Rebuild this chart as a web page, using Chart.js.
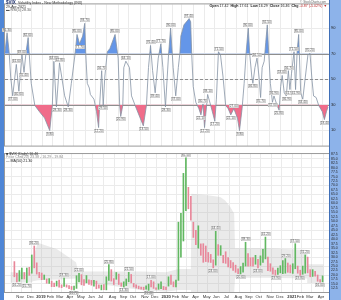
<!DOCTYPE html>
<html>
<head>
<meta charset="utf-8">
<script src="https://cdn.jsdelivr.net/npm/chart.js@4.4.1/dist/chart.umd.min.js"></script>
<style>
html, body { margin: 0; padding: 0; background: #fff; }
#wrap { position: relative; width: 341px; height: 300px; overflow: hidden; }
canvas { position: absolute; left: 0; }
#topPanel { top: 0; }
#pricePanel { top: 150px; }
</style>
</head>
<body>
<div id="wrap">
  <canvas id="topPanel" width="341" height="150" style="width:341px;height:150px"></canvas>
  <canvas id="pricePanel" width="341" height="150" style="width:341px;height:150px"></canvas>
</div>
<script>
// x axis = trading day counted from 26-Oct-2018
const monthDays = [4, 25, 44, 65, 84, 105, 126, 148, 168, 190, 212, 232, 255, 275, 296, 317, 336, 358, 379, 399, 421, 443, 464, 485, 507, 527, 549, 568, 587, 610];
const monthLabels = ["Nov", "Dec", "2019", "Feb", "Mar", "Apr", "May", "Jun", "Jul", "Aug", "Sep", "Oct", "Nov", "Dec", "2020", "Feb", "Mar", "Apr", "May", "Jun", "Jul", "Aug", "Sep", "Oct", "Nov", "Dec", "2021", "Feb", "Mar", "Apr"];

// RSI panel
const rsiDays = [-8, -4, 0, 3, 7, 14, 19, 25, 29, 33, 37, 43, 50, 59, 69, 79, 84, 87, 92, 98, 108, 115, 121, 128, 132, 137, 143, 147, 149, 152, 156, 158, 165, 170, 174, 176, 180, 183, 186, 191, 196, 206, 212, 215, 217, 221, 223, 227, 234, 238, 245, 261, 267, 271, 275, 279, 284, 290, 295, 299, 304, 310, 314, 319, 324, 329, 332, 334, 340, 350, 353, 355, 358, 363, 369, 373, 377, 380, 384, 386, 392, 400, 403, 407, 411, 416, 421, 426, 431, 437, 444, 448, 453, 457, 461, 465, 468, 472, 474, 478, 482, 486, 489, 492, 496, 499, 502, 505, 508, 512, 515, 521, 525, 528, 531, 535, 539, 543, 546, 549, 554, 557, 560, 563, 567, 571, 576, 581, 585, 589, 592, 597, 602, 609, 613, 617, 620];
const rsiValues = [71, 86.3, 71.5, 51.7, 37, 61.6, 40.6, 69, 55.4, 71.5, 82.6, 46.8, 29.5, 24.6, 19.6, 9.8, 29.5, 64, 28.3, 62.8, 37, 28.3, 46.8, 69, 85, 77.7, 83.8, 93.7, 70.2, 46.8, 43.1, 38.1, 34.4, 24.6, 12.2, 29.5, 56.7, 29.5, 51.7, 71.5, 74, 85, 66.5, 29.5, 20.9, 29.5, 59.1, 64.1, 59.1, 37, 29.5, 13.5, 29.5, 59.1, 76.4, 56.7, 39.4, 66.5, 77.7, 59.1, 28.3, 69, 90, 59.1, 37, 59.1, 70.2, 83.8, 92.5, 97.4, 94.9, 70.2, 44.3, 32, 27, 22.1, 30.7, 12.2, 29.5, 38.1, 29.5, 17.2, 34.4, 71.5, 69, 51.7, 29.5, 27, 22.1, 27, 19.6, 9.8, 27, 46.8, 71.5, 90, 69, 51.7, 46.8, 59.1, 66.5, 51.7, 35.7, 59.1, 64.1, 78.9, 92.5, 69, 46.8, 32, 36.9, 29.5, 25.8, 44.3, 53, 39.4, 36.9, 56.7, 41.9, 54.2, 71.5, 41.9, 71.5, 85, 39.4, 34.4, 51.7, 69, 70.2, 49.3, 36.9, 35.7, 29.5, 24.6, 18.4, 24.6, 28.3];
const rsiTicks = [10, 30, 50, 70, 90];
const rsiUpper = 70, rsiMid = 50, rsiLower = 30;

// price panel, one bar per week (5 trading days)
const barStep = 5;
const barLow = [19.0, 16.2, 16.5, 17.8, 17.8, 15.7, 19.8, 21.0, 24.0, 20.5, 18.5, 17.4, 17.5, 15.4, 15.3, 13.5, 13.5, 13.8, 13.2, 12.9, 13.6, 13.2, 12.3, 11.9, 11.7, 12.5, 16.2, 14.5, 14.2, 15.6, 14.8, 14.3, 13.7, 12.3, 12.6, 11.7, 11.8, 11.7, 17.0, 16.6, 14.7, 17.6, 14.7, 13.7, 13.3, 14.1, 16.2, 15.6, 13.3, 12.7, 12.3, 12.1, 11.7, 12.1, 11.4, 13.4, 12.5, 11.9, 12.0, 12.4, 11.8, 11.8, 13.8, 14.8, 13.4, 13.4, 17.0, 30.0, 39.0, 56.0, 57.0, 50.6, 41.0, 37.0, 35.0, 31.0, 27.1, 27.5, 27.2, 27.0, 24.0, 25.5, 31.0, 31.0, 26.8, 26.5, 24.5, 24.0, 22.6, 21.5, 20.8, 20.6, 21.6, 25.0, 25.0, 25.0, 25.0, 26.0, 24.0, 25.5, 27.0, 29.0, 22.4, 22.1, 20.5, 19.9, 20.3, 21.2, 20.8, 21.0, 21.5, 21.2, 20.9, 23.5, 21.0, 19.8, 20.4, 21.0, 21.2, 19.0, 19.2, 19.4, 16.5, 16.0, 16.2];
const barHigh = [27.5, 21.0, 22.5, 23.8, 21.4, 23.9, 24.3, 31.2, 36.2, 26.8, 21.5, 21.1, 20.0, 17.8, 18.0, 16.6, 15.5, 16.6, 17.2, 14.5, 18.3, 14.5, 14.1, 13.6, 13.8, 19.6, 21.0, 20.2, 17.5, 19.7, 17.3, 17.0, 17.0, 16.6, 14.5, 14.4, 14.6, 19.0, 25.8, 23.0, 18.0, 21.4, 20.5, 15.6, 16.2, 17.8, 21.5, 20.3, 15.3, 14.5, 13.8, 13.3, 13.2, 13.9, 14.9, 17.0, 16.2, 12.9, 15.0, 16.2, 13.6, 13.2, 19.0, 19.9, 16.2, 17.1, 49.5, 54.4, 76.8, 85.5, 69.0, 64.0, 49.5, 45.0, 47.5, 37.4, 37.5, 36.2, 32.6, 31.5, 28.5, 44.4, 37.0, 36.4, 31.0, 33.0, 29.7, 28.1, 27.0, 25.5, 23.5, 24.7, 26.6, 38.3, 32.0, 29.7, 29.8, 31.0, 28.8, 30.7, 34.4, 41.2, 30.0, 26.3, 24.0, 22.7, 23.8, 25.2, 28.0, 29.2, 26.7, 25.6, 26.3, 37.5, 25.0, 22.7, 25.0, 31.2, 30.0, 23.0, 23.0, 22.0, 20.0, 17.5, 19.5];
const barUp = [0, 0, 1, 1, 0, 1, 0, 1, 0, 0, 0, 0, 1, 0, 1, 0, 0, 1, 0, 0, 1, 0, 0, 0, 1, 1, 1, 0, 0, 1, 0, 0, 1, 0, 0, 1, 0, 1, 1, 0, 0, 1, 0, 0, 1, 1, 1, 0, 0, 0, 0, 0, 0, 1, 1, 0, 0, 0, 1, 1, 0, 0, 1, 0, 0, 1, 1, 1, 1, 1, 0, 0, 0, 0, 1, 0, 0, 0, 0, 0, 0, 1, 0, 1, 0, 0, 0, 0, 0, 0, 0, 1, 1, 1, 0, 0, 0, 1, 0, 1, 1, 1, 0, 0, 0, 0, 1, 1, 1, 1, 0, 0, 1, 1, 0, 0, 1, 1, 0, 0, 1, 0, 0, 0, 1];
const bandDays = [-8, 34, 37, 47, 86, 124, 128, 189, 254, 305, 330, 355, 356, 389, 414, 424, 434, 442, 444, 511, 589, 590, 622];
const bandUpper = [21.6, 21.6, 28.9, 38, 34.4, 27.1, 22, 22, 22, 21.6, 23.4, 23.4, 65.4, 64.5, 63.6, 61.7, 58.1, 54.4, 35, 35, 34, 26, 26];
const bandLower = [15.8, 15.8, 16.5, 17, 17.5, 18, 16.1, 14.3, 11.6, 10.7, 11.6, 11.6, 9.5, 9.5, 9.5, 9.5, 9.5, 9.5, 18.5, 18.5, 18, 15.5, 15.5];
const priceTicks = [12.5, 15, 17.5, 20, 22.5, 25, 27.5, 30, 32.5, 35, 37.5, 40, 42.5, 45, 47.5, 50, 52.5, 55, 57.5, 60, 62.5, 65, 67.5, 70, 72.5, 75, 77.5, 80, 82.5, 85, 87.5];

const FONT = '"Liberation Sans", Arial, sans-serif';
const STRIP_LEFT = "#4f86d6";
const STRIP_RIGHT = "#8db3ea";

function tag(ctx, text, x, y, above) {
    ctx.font = "3.2px " + FONT;
    const w = ctx.measureText(text).width + 1.6, h = 4;
    const bx = Math.round(x - w / 2), by = Math.round(above ? y - h - 1 : y + 1);
    ctx.fillStyle = "#fff";
    ctx.fillRect(bx, by, w, h);
    ctx.strokeStyle = "#a8a8a8";
    ctx.lineWidth = 0.5;
    ctx.strokeRect(bx + 0.25, by + 0.25, w - 0.5, h - 0.5);
    ctx.fillStyle = "#555";
    ctx.textAlign = "center";
    ctx.textBaseline = "middle";
    ctx.fillText(text, bx + w / 2, by + h / 2 + 0.2);
}

function frame(chart) {
    const ctx = chart.ctx, a = chart.chartArea;
    ctx.save();
    ctx.fillStyle = "#fff";
    ctx.fillRect(0, 0, chart.width, chart.height);
    ctx.fillStyle = STRIP_RIGHT;
    ctx.fillRect(a.right, 0, chart.width - a.right, chart.height);
    ctx.fillStyle = STRIP_LEFT;
    ctx.fillRect(0, 0, 4, chart.height);
    ctx.restore();
}

function border(chart) {
    const ctx = chart.ctx, a = chart.chartArea;
    ctx.save();
    ctx.strokeStyle = "#9a9a9a";
    ctx.lineWidth = 1;
    ctx.strokeRect(a.left - 0.5, a.top - 0.5, a.right - a.left + 1, a.bottom - a.top + 1);
    ctx.strokeStyle = "#3f6fb8";
    ctx.beginPath();
    ctx.moveTo(a.right + 0.5, 0);
    ctx.lineTo(a.right + 0.5, chart.height);
    ctx.stroke();
    ctx.restore();
}

function textRun(ctx, parts, rightX, y) {
    let total = 0;
    parts.forEach(p => { ctx.font = p[1] + " 3.6px " + FONT; total += ctx.measureText(p[0]).width; });
    let x = rightX - total;
    ctx.textAlign = "left";
    parts.forEach(p => {
        ctx.font = p[1] + " 3.6px " + FONT;
        ctx.fillStyle = p[2] || "#222";
        ctx.fillText(p[0], x, y);
        x += ctx.measureText(p[0]).width;
    });
}

const rsiDecor = {
    id: "rsiDecor",
    beforeDraw: frame,
    beforeDatasetsDraw(chart) {
        const ctx = chart.ctx, a = chart.chartArea, y = chart.scales.y;
        ctx.save();
        ctx.lineWidth = 1;
        ctx.strokeStyle = "#8e8e8e";
        [rsiUpper, rsiLower].forEach(v => {
            const py = Math.round(y.getPixelForValue(v)) + 0.5;
            ctx.beginPath(); ctx.moveTo(a.left, py); ctx.lineTo(a.right, py); ctx.stroke();
        });
        ctx.setLineDash([3, 2]);
        const py = Math.round(y.getPixelForValue(rsiMid)) + 0.5;
        ctx.beginPath(); ctx.moveTo(a.left, py); ctx.lineTo(a.right, py); ctx.stroke();
        ctx.restore();
    },
    afterDatasetsDraw(chart) {
        const ctx = chart.ctx, xs = chart.scales.x, ys = chart.scales.y;
        ctx.save();
        for (let i = 1; i < rsiValues.length - 1; i++) {
            const v = rsiValues[i];
            const px = xs.getPixelForValue(rsiDays[i]), py = ys.getPixelForValue(v);
            if (v > rsiValues[i - 1] && v > rsiValues[i + 1]) tag(ctx, v.toFixed(2), px, py, true);
            else if (v < rsiValues[i - 1] && v < rsiValues[i + 1]) tag(ctx, v.toFixed(2), px, py, false);
        }
        ctx.restore();
    },
    afterDraw(chart) {
        border(chart);
        const ctx = chart.ctx;
        ctx.save();
        ctx.textBaseline = "middle";
        ctx.textAlign = "left";
        ctx.font = "bold 4.5px " + FONT;
        ctx.fillStyle = "#1d2f6b";
        ctx.fillText("$VIX", 6, 3);
        ctx.font = "3.6px " + FONT;
        ctx.fillStyle = "#333";
        ctx.fillText("Volatility Index - New Methodology (INX)", 18, 3);
        ctx.fillText("29-Apr-2021", 6, 6.8);
        ctx.fillStyle = "#555";
        ctx.fillText("\u25AC RSI(5) 28.30", 6, 10);
        ctx.font = "3px " + FONT;
        ctx.textAlign = "right";
        ctx.fillStyle = "#666";
        ctx.fillText("\u00A9 StockCharts.com", 326, 2.2);
        textRun(ctx, [["Open ", "bold"], ["17.42  ", "normal"], ["High ", "bold"], ["17.61  ", "normal"],
            ["Low ", "bold"], ["16.29  ", "normal"], ["Close ", "bold"], ["16.46  ", "normal"],
            ["Chg ", "bold"], ["-0.87 (-5.02%) \u25BC", "normal", "#c03030"]], 327, 5.6);
        ctx.restore();
    }
};

const priceDecor = {
    id: "priceDecor",
    beforeDraw: frame,
    afterDatasetsDraw(chart) {
        const ctx = chart.ctx, xs = chart.scales.x, ys = chart.scales.y;
        const n = barHigh.length;
        ctx.save();
        for (let i = 1; i < n - 1; i++) {
            const lo = Math.max(0, i - 3), hi = Math.min(n - 1, i + 3);
            let isHigh = true, isLow = true;
            for (let j = lo; j <= hi; j++) {
                if (j === i) continue;
                if (barHigh[j] >= barHigh[i]) isHigh = false;
                if (barLow[j] <= barLow[i]) isLow = false;
            }
            const px = xs.getPixelForValue(i * barStep);
            if (isHigh) tag(ctx, barHigh[i].toFixed(2), px, ys.getPixelForValue(barHigh[i]), true);
            if (isLow) tag(ctx, barLow[i].toFixed(2), px, ys.getPixelForValue(barLow[i]), false);
        }
        ctx.restore();
    },
    afterDraw(chart) {
        border(chart);
        const ctx = chart.ctx;
        ctx.save();
        ctx.textBaseline = "middle";
        ctx.textAlign = "left";
        ctx.font = "3.6px " + FONT;
        ctx.fillStyle = "#333";
        ctx.fillText("\u25A0 $VIX (Daily) 16.46", 6, 3.5);
        ctx.fillStyle = "#8a8a8a";
        ctx.fillText("Price Chnl(20) 23.38 - 16.29 - 19.84", 6, 7);
        ctx.fillStyle = "#222";
        ctx.fillText("\u2014 MA(50) 21.30", 6, 10.5);
        ctx.restore();
    }
};

const xCommon = {
    type: "linear",
    min: -8,
    max: 622,
    afterBuildTicks: s => { s.ticks = monthDays.map(v => ({ value: v })); },
    grid: { color: "#ebebeb", lineWidth: 1, drawTicks: false },
    border: { display: false }
};

new Chart(document.getElementById("topPanel"), {
    type: "line",
    data: {
        datasets: [
            {
                data: rsiDays.map((d, i) => ({ x: d, y: rsiValues[i] })),
                borderColor: "#8593a5",
                borderWidth: 0.8,
                pointRadius: 0,
                tension: 0,
                fill: false,
                order: 0
            },
            {
                data: rsiDays.map((d, i) => ({ x: d, y: rsiValues[i] })),
                borderColor: "rgba(0,0,0,0)",
                pointRadius: 0,
                tension: 0,
                fill: { target: { value: rsiUpper }, above: "rgb(100,150,232)", below: "rgba(0,0,0,0)" },
                order: 1
            },
            {
                data: rsiDays.map((d, i) => ({ x: d, y: rsiValues[i] })),
                borderColor: "rgba(0,0,0,0)",
                pointRadius: 0,
                tension: 0,
                fill: { target: { value: rsiLower }, above: "rgba(0,0,0,0)", below: "rgb(240,108,138)" },
                order: 2
            }
        ]
    },
    options: {
        responsive: false,
        animation: false,
        devicePixelRatio: 1,
        layout: { padding: { left: 5, top: 0, right: 0, bottom: 1 } },
        plugins: { legend: { display: false }, tooltip: { enabled: false } },
        scales: {
            x: Object.assign({}, xCommon, {
                ticks: { display: false },
                afterFit: s => { s.height = 0; }
            }),
            y: {
                position: "right",
                min: -1.9,
                max: 108.5,
                afterBuildTicks: s => { s.ticks = rsiTicks.map(v => ({ value: v })); },
                ticks: { font: { size: 4, family: FONT }, color: "#222", padding: 2, autoSkip: false },
                grid: { color: "#ebebeb", drawTicks: false },
                border: { display: false },
                afterFit: s => { s.width = 12; }
            }
        }
    },
    plugins: [rsiDecor]
});

new Chart(document.getElementById("pricePanel"), {
    type: "bar",
    data: {
        datasets: [
            {
                type: "bar",
                data: barLow.map((lo, i) => ({ x: i * barStep, y: [lo, barHigh[i]] })),
                backgroundColor: barUp.map(u => u ? "#62b862" : "#e8879a"),
                barThickness: 1,
                grouped: false,
                order: 0
            },
            {
                type: "line",
                data: bandDays.map((d, i) => ({ x: d, y: bandLower[i] })),
                borderColor: "rgba(0,0,0,0)",
                pointRadius: 0,
                fill: false,
                order: 2
            },
            {
                type: "line",
                data: bandDays.map((d, i) => ({ x: d, y: bandUpper[i] })),
                borderColor: "rgba(0,0,0,0)",
                backgroundColor: "rgba(170,170,170,0.25)",
                pointRadius: 0,
                fill: "-1",
                order: 1
            }
        ]
    },
    options: {
        responsive: false,
        animation: false,
        devicePixelRatio: 1,
        layout: { padding: { left: 5, top: 1, right: 0, bottom: 0 } },
        plugins: { legend: { display: false }, tooltip: { enabled: false } },
        scales: {
            x: Object.assign({}, xCommon, {
                ticks: {
                    autoSkip: false,
                    maxRotation: 0,
                    align: "start",
                    padding: 2,
                    color: "#333",
                    font: c => ({ size: 4.2, family: FONT, weight: /^\d{4}$/.test(monthLabels[c.index]) ? "bold" : "normal" }),
                    callback: (v, i) => monthLabels[i]
                },
                afterFit: s => { s.height = 8; }
            }),
            y: {
                position: "right",
                min: 10.5,
                max: 87.6,
                afterBuildTicks: s => { s.ticks = priceTicks.map(v => ({ value: v })); },
                ticks: { font: { size: 3.4, family: FONT }, color: "#222", padding: 2, autoSkip: false, callback: v => v.toFixed(1) },
                grid: { color: c => (c.tick && c.tick.value % 5 === 0) ? "#ebebeb" : "rgba(0,0,0,0)", drawTicks: false },
                border: { display: false },
                afterFit: s => { s.width = 12; }
            }
        }
    },
    plugins: [priceDecor]
});
</script>
</body>
</html>
